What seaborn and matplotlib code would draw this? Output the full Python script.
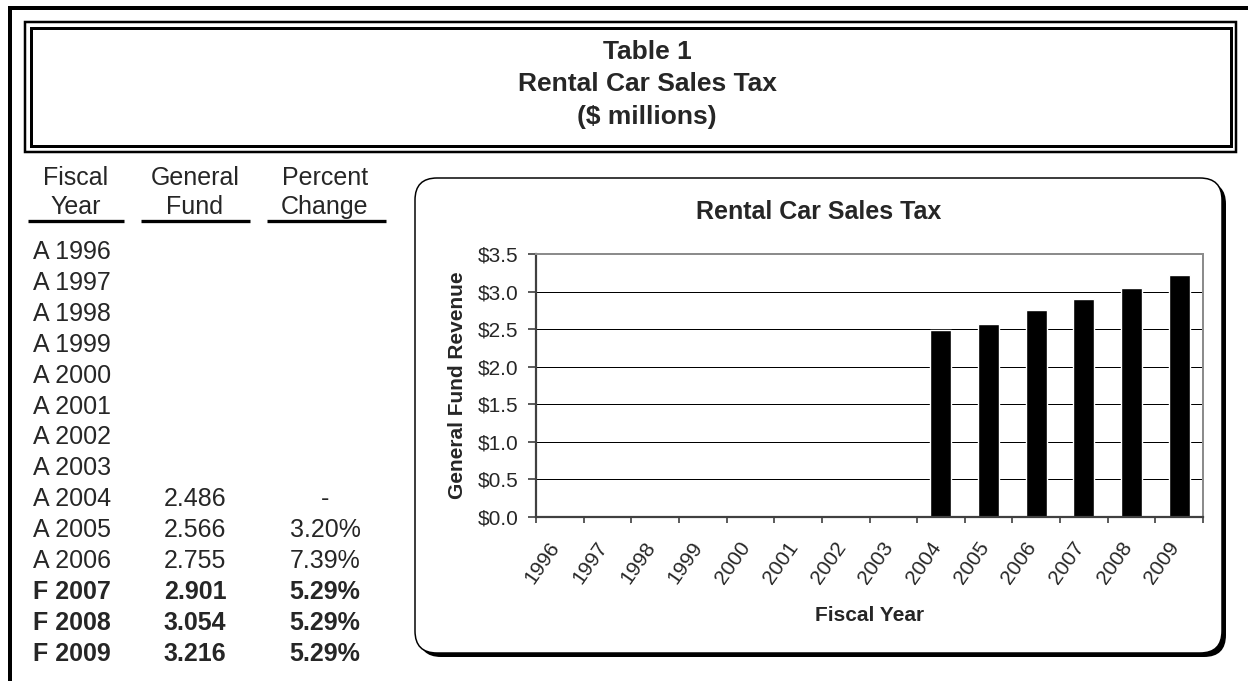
import matplotlib.pyplot as plt
import seaborn as sns
import pandas as pd
from matplotlib.patches import FancyBboxPatch, Rectangle
from matplotlib.ticker import FuncFormatter, FixedLocator
from matplotlib.transforms import ScaledTranslation

# table / chart data
fiscal_years = ['1996', '1997', '1998', '1999', '2000', '2001', '2002',
                '2003', '2004', '2005', '2006', '2007', '2008', '2009']
year_status = ['A', 'A', 'A', 'A', 'A', 'A', 'A', 'A', 'A', 'A', 'A', 'F', 'F', 'F']
fund_years = ['2004', '2005', '2006', '2007', '2008', '2009']
general_fund = [2.486, 2.566, 2.755, 2.901, 3.054, 3.216]
pct_change = ['-', '3.20%', '7.39%', '5.29%', '5.29%', '5.29%']
y_ticks = [0.0, 0.5, 1.0, 1.5, 2.0, 2.5, 3.0, 3.5]

sns.set_style('white')
plt.rcParams['font.family'] = ['Liberation Sans', 'DejaVu Sans']

W, H = 1248, 681
fig = plt.figure(figsize=(W / 100, H / 100), dpi=100)
PX = 0.72  # one pixel in points

# background layer in pixel coordinates for the frames and the table
bg = fig.add_axes([0, 0, 1, 1], zorder=0)
bg.set_xlim(0, W)
bg.set_ylim(H, 0)
bg.axis('off')

# outer frame (top and left only)
bg.plot([8, W], [8, 8], color='black', lw=4 * PX, solid_capstyle='butt')
bg.plot([10, 10], [6, H], color='black', lw=4 * PX, solid_capstyle='butt')

# double-lined title box
bg.add_patch(Rectangle((25, 22), 1210.5, 129.5, fill=False, ec='black', lw=2.5 * PX))
bg.add_patch(Rectangle((30.5, 28), 1200, 118, fill=False, ec='black', lw=3 * PX))
title_lines = ['Table 1', 'Rental Car Sales Tax', '($ millions)']
for i, line in enumerate(title_lines):
    bg.text(647, 59 + i * 32.3, line, ha='center', va='baseline',
            fontsize=19, fontweight='bold')

# table headers
col_x = [76, 195, 325]
headers = [('Fiscal', 'Year'), ('General', 'Fund'), ('Percent', 'Change')]
for cx, (h1, h2) in zip(col_x, headers):
    bg.text(cx, 185, h1, ha='center', va='baseline', fontsize=18)
    bg.text(cx, 214, h2, ha='center', va='baseline', fontsize=18)
for x0, x1 in [(28, 124), (141, 250), (267, 386)]:
    bg.plot([x0, x1], [221, 221], color='black', lw=3.3 * PX, solid_capstyle='butt')

# table rows
fund_lookup = dict(zip(fund_years, general_fund))
pct_lookup = dict(zip(fund_years, pct_change))
for i, (yr, st) in enumerate(zip(fiscal_years, year_status)):
    yb = 259 + i * 30.9
    weight = 'bold' if st == 'F' else 'normal'
    bg.text(33, yb, f'{st} {yr}', ha='left', va='baseline', fontsize=18, fontweight=weight)
    if yr in fund_lookup:
        bg.text(col_x[1], yb, f'{fund_lookup[yr]:.3f}', ha='center', va='baseline',
                fontsize=18, fontweight=weight)
        bg.text(col_x[2], yb, pct_lookup[yr], ha='center', va='baseline',
                fontsize=18, fontweight=weight)

# rounded chart box with drop shadow
box_x0, box_y0, box_x1, box_y1 = 415, 178, 1222, 653
bg.add_patch(FancyBboxPatch((box_x0 + 4, box_y0 + 4), box_x1 - box_x0, box_y1 - box_y0,
                            boxstyle='round,pad=0,rounding_size=22',
                            fc='black', ec='black', lw=0))
bg.add_patch(FancyBboxPatch((box_x0, box_y0), box_x1 - box_x0, box_y1 - box_y0,
                            boxstyle='round,pad=0,rounding_size=22',
                            fc='white', ec='black', lw=1.5 * PX))
bg.text((box_x0 + box_x1) / 2, 219, 'Rental Car Sales Tax', ha='center',
        va='baseline', fontsize=18, fontweight='bold')

# bar chart
ax = fig.add_axes([536 / W, 1 - 517 / H, 667 / W, 263 / H], zorder=2)
df = pd.DataFrame({'year': fund_years, 'fund': general_fund})
sns.barplot(data=df, x='year', y='fund', order=fiscal_years, color='black',
            saturation=1, width=0.44, ax=ax)

ax.set_xlim(-0.5, len(fiscal_years) - 0.5)
ax.set_ylim(0, 3.5)
ax.set_yticks(y_ticks)
ax.yaxis.set_major_formatter(FuncFormatter(lambda v, _: f'${v:.1f}'))
ax.yaxis.grid(True, color='black', lw=1.0 * PX)
ax.set_axisbelow(True)

for side in ['top', 'right']:
    ax.spines[side].set_color('#8c8c8c')
    ax.spines[side].set_linewidth(2 * PX)
for side in ['left', 'bottom']:
    ax.spines[side].set_color('#404040')
    ax.spines[side].set_linewidth(2.2 * PX)

ax.tick_params(axis='y', direction='out', length=5.5, width=1.2, color='#404040',
               pad=7, labelsize=15, left=True)
ax.tick_params(axis='x', which='major', length=0, pad=15, labelsize=15, bottom=True)
ax.xaxis.set_minor_locator(FixedLocator([i - 0.5 for i in range(len(fiscal_years) + 1)]))
ax.tick_params(axis='x', which='minor', direction='out', length=4.5, width=1.2,
               color='#404040', bottom=True)
shift = ScaledTranslation(4 / 100, 0, fig.dpi_scale_trans)
for lab in ax.get_xticklabels():
    lab.set_rotation(55)
    lab.set_ha('right')
    lab.set_va('top')
    lab.set_transform(lab.get_transform() + shift)

ax.set_xlabel('Fiscal Year', fontsize=15, fontweight='bold', labelpad=14)
ax.set_ylabel('General Fund Revenue', fontsize=15, fontweight='bold', labelpad=8)

fig.savefig('out.png', dpi=100)
plt.close(fig)
